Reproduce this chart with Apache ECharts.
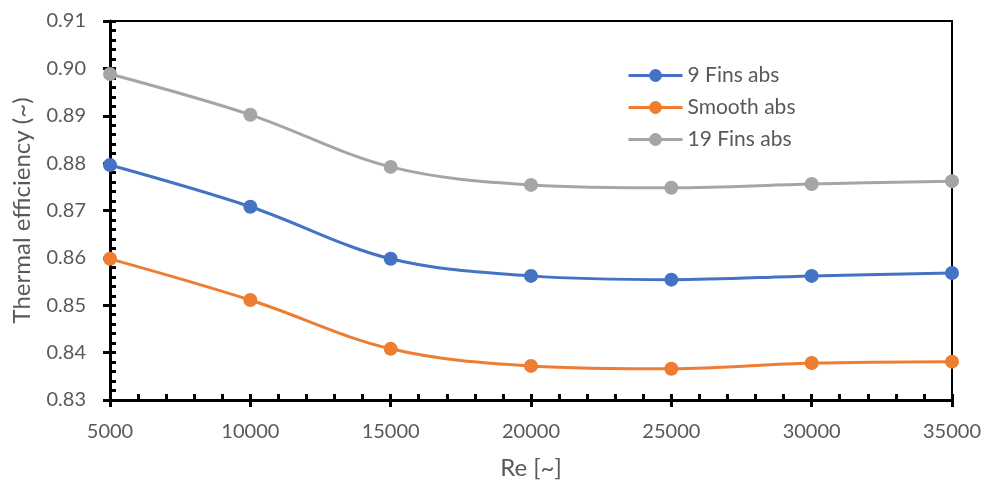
<!DOCTYPE html>
<html>
<head>
<meta charset="utf-8">
<script src="https://cdn.jsdelivr.net/npm/echarts@6/dist/echarts.min.js"></script>
<style>
  html, body { margin: 0; padding: 0; background: #fff; }
</style>
</head>
<body>
<div id="main" style="width: 986px;height:486px;"></div>
<script type="text/javascript">
// Re values (x) and efficiency per series
var reValues = [5000, 10000, 15000, 20000, 25000, 30000, 35000];
var fins9 = [0.8796, 0.8708, 0.8598, 0.8562, 0.8554, 0.8562, 0.8568];
var smooth = [0.8598, 0.8511, 0.8408, 0.8372, 0.8366, 0.8378, 0.8381];
var fins19 = [0.8988, 0.8902, 0.8792, 0.8754, 0.8748, 0.8756, 0.8762];
var seriesNames = ['9 Fins abs', 'Smooth abs', '19 Fins abs'];
var colors = ['#4472C4', '#ED7D31', '#A5A5A5'];

function pairs(ys) {
  var out = [];
  for (var i = 0; i < reValues.length; i++) out.push([reValues[i], ys[i]]);
  return out;
}

var chart = echarts.init(document.getElementById('main'), null, { renderer: 'canvas' });

var font = 'Lato, "Open Sans", sans-serif';
var lineSeries = [fins9, smooth, fins19].map(function (d, i) {
  return {
    name: seriesNames[i],
    type: 'line',
    smooth: 0.35,
    data: pairs(d),
    symbol: 'circle',
    symbolSize: 14,
    lineStyle: { width: 3, color: colors[i] },
    itemStyle: { color: colors[i] },
    z: 3
  };
});

chart.setOption({
  animation: false,
  color: colors,
  grid: {
    left: 110, right: 34, top: 21, bottom: 86,
    show: true, borderColor: '#000', borderWidth: 2
  },
  legend: {
    orient: 'vertical',
    left: 622, top: 60,
    itemWidth: 54, itemHeight: 16, itemGap: 11,
    lineStyle: { width: 3 },
    textStyle: { fontFamily: font, fontSize: 21, color: '#595959' },
    data: seriesNames
  },
  xAxis: [{
    type: 'value', min: 5000, max: 35000, interval: 5000,
    name: 'Re [~]', nameLocation: 'middle', nameGap: 56,
    nameTextStyle: { fontFamily: font, fontSize: 24, color: '#595959' },
    axisLine: { show: true, lineStyle: { color: '#000', width: 3 } },
    axisTick: { show: true, inside: true, length: 6, lineStyle: { color: '#000', width: 3 } },
    minorTick: { show: true, splitNumber: 5, length: 6, lineStyle: { color: '#000', width: 3 } },
    splitLine: { show: false },
    axisLabel: {
      fontFamily: font, fontSize: 20, color: '#595959', margin: 22,
      formatter: function (v) { return String(v); }
    }
  }, {
    type: 'value', min: 5000, max: 35000, interval: 5000, position: 'bottom',
    axisLine: { show: false },
    axisTick: { show: true, inside: false, length: 7, lineStyle: { color: '#000', width: 3 } },
    axisLabel: { show: false }, splitLine: { show: false }
  }],
  yAxis: [{
    type: 'value', min: 0.83, max: 0.91, interval: 0.01,
    name: 'Thermal efficiency (~)', nameLocation: 'middle', nameGap: 76,
    nameTextStyle: { fontFamily: font, fontSize: 24, color: '#595959' },
    axisLine: { show: true, lineStyle: { color: '#000', width: 3 } },
    axisTick: { show: true, inside: true, length: 6, lineStyle: { color: '#000', width: 3 } },
    minorTick: { show: true, splitNumber: 5, length: 6, lineStyle: { color: '#000', width: 3 } },
    splitLine: { show: false },
    axisLabel: {
      fontFamily: font, fontSize: 20, color: '#595959', margin: 24,
      formatter: function (v) { return v.toFixed(2); }
    }
  }, {
    type: 'value', min: 0.83, max: 0.91, interval: 0.01, position: 'left',
    axisLine: { show: false },
    axisTick: { show: true, inside: false, length: 7, lineStyle: { color: '#000', width: 3 } },
    axisLabel: { show: false }, splitLine: { show: false }
  }],
  series: lineSeries
});
</script>
</body>
</html>
